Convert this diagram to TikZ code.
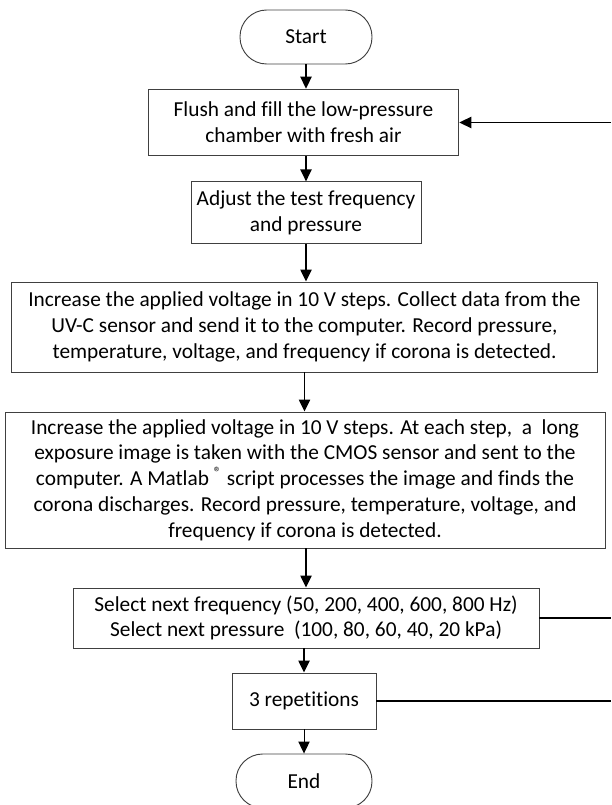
\documentclass[tikz,border=0pt]{standalone}
\usepackage{fontspec}
\setmainfont{Carlito}[Ligatures=NoCommon]
\usetikzlibrary{arrows.meta}
\begin{document}
\begin{tikzpicture}[x=0.75pt,y=-0.75pt,
  every node/.style={font=\fontsize{16}{19.3}\selectfont},
  procbox/.style={draw=black!75, line width=0.7pt, rectangle, align=center, inner sep=0pt},
  termbox/.style={draw=black!75, line width=0.7pt, rectangle, rounded corners=20pt, align=center, inner sep=0pt},
  flowarrow/.style={draw=black, line width=1pt, -{Triangle[length=9pt,width=8.5pt]}},
  flowline/.style={draw=black, line width=1pt}]
\useasboundingbox (0,0) rectangle (611,805);

\node[termbox, minimum width=99pt, minimum height=40.5pt] (start) at (306,37) {Start};
\node[procbox, minimum width=233pt, minimum height=50pt] (flush) at (303.5,122.5)
  {Flush and fill the low-pressure\\chamber with fresh air};
\node[procbox, minimum width=172.5pt, minimum height=46pt] (adjust) at (306,212.5)
  {Adjust the test frequency\\and pressure};
\node[procbox, minimum width=440pt, minimum height=67.5pt] (uv) at (304.5,327)
  {Increase the applied voltage in 10 V steps. Collect data from the\\
   UV-C sensor and send it to the computer. Record pressure,\\
   temperature, voltage, and frequency if corona is detected.};
\node[procbox, minimum width=450pt, minimum height=102pt] (cmos) at (305,480)
  {Increase the applied voltage in 10 V steps. At each step,\ \ a\ \ long\\
   exposure image is taken with the CMOS sensor and sent to the\\
   computer. A Matlab \textsuperscript{®} script processes the image and finds the\\
   corona discharges. Record pressure, temperature, voltage, and\\
   frequency if corona is detected.};
\node[procbox, minimum width=349.5pt, minimum height=45pt] (freq) at (306,618)
  {Select next frequency (50, 200, 400, 600, 800 Hz)\\
   Select next pressure\ \ (100, 80, 60, 40, 20 kPa)};
\node[procbox, minimum width=108pt, minimum height=42pt] (rep) at (304,701) {3 repetitions};
\node[termbox, minimum width=102pt, minimum height=40.5pt] (end) at (304,781) {End};

\coordinate (ret1) at (611,122.5);
\coordinate (ret2) at (611,618);
\coordinate (ret3) at (611,701);

\draw[flowarrow] (start.south) -- (start.south |- flush.north);
\draw[flowarrow] (adjust.north |- flush.south) -- (adjust.north);
\draw[flowarrow] (adjust.south) -- (adjust.south |- uv.north);
\draw[flowarrow] (uv.south) -- (uv.south |- cmos.north);
\draw[flowarrow] (freq.north |- cmos.south) -- (freq.north);
\draw[flowarrow] (freq.south -| rep.north) -- (rep.north);
\draw[flowarrow, line width=0.7pt] (rep.south) -- (rep.south |- end.north);
\draw[flowarrow] (ret1) -- (flush.east);
\draw[flowline] (freq.east) -- (ret2);
\draw[flowline] (rep.east) -- (ret3);
\end{tikzpicture}
\end{document}
